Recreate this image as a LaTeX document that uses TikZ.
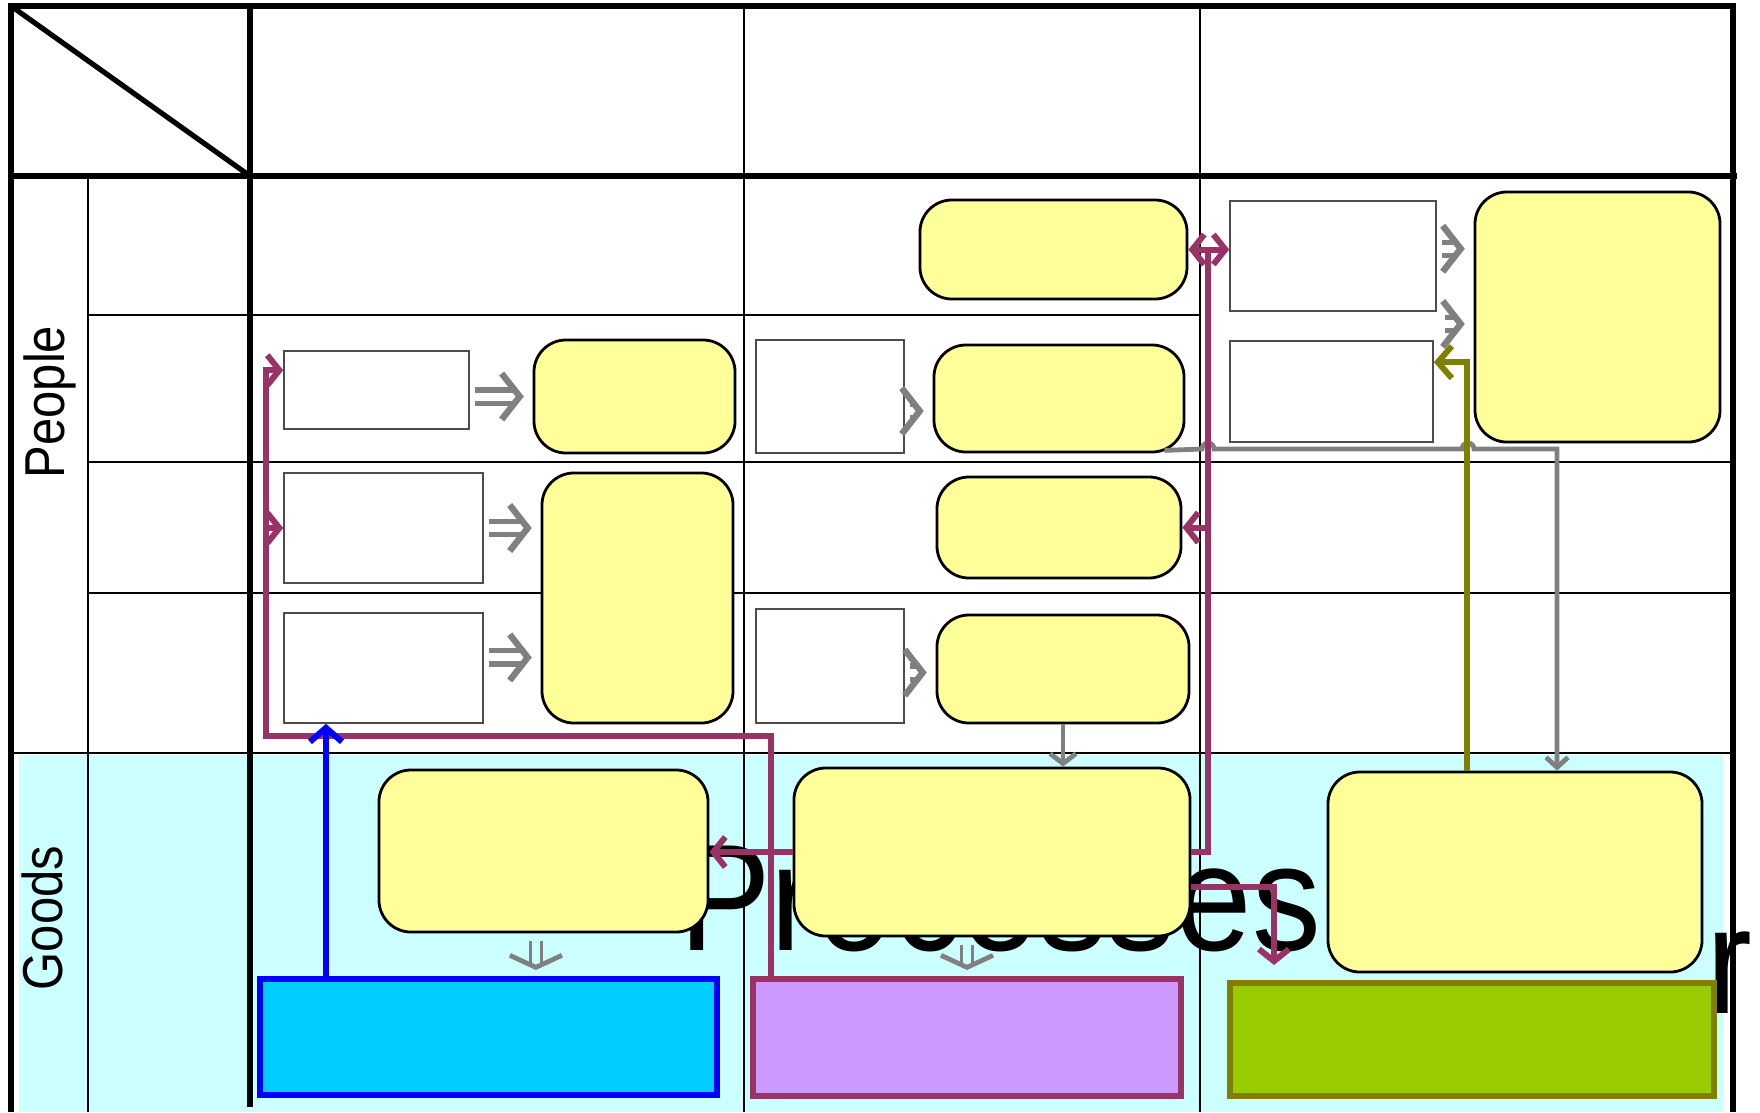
\documentclass[tikz,border=0pt]{standalone}
\usepackage{fontspec}
\setmainfont{Liberation Sans}
\usepackage{xcolor}
\usetikzlibrary{arrows.meta,positioning,calc,decorations.markings}

\definecolor{goodsbg}{HTML}{CCFFFF}
\definecolor{taskyellow}{HTML}{FFFF99}
\definecolor{plum}{HTML}{993366}
\definecolor{flowolive}{HTML}{808000}
\definecolor{skyfill}{HTML}{00CCFF}
\definecolor{lilacfill}{HTML}{CC99FF}
\definecolor{limefill}{HTML}{99CC00}

\begin{document}
\begin{tikzpicture}[
    x=0.025cm, y=-0.025cm,
    thinline/.style={line width=0.05cm},
    thickline/.style={line width=0.13cm},
    lane/.style={font=\fontsize{40}{44}\selectfont, rotate=90, xscale=0.87, inner sep=0pt},
    bigtext/.style={font=\fontsize{108}{120}\selectfont, xscale=0.905, inner sep=0pt},
    task/.style={rectangle, draw, rounded corners=0.8cm, fill=taskyellow, line width=0.07cm, inner sep=0pt},
    doc/.style={rectangle, draw=black!70, fill=white, line width=0.04cm, inner sep=0pt},
    store/.style={rectangle, line width=0.15cm, inner sep=0pt},
    dbl/.style={draw=white, line width=0.2cm, shorten <=0.12cm, shorten >=0.38cm,
        preaction={draw=gray, line width=0.46cm, shorten <=0.12cm, shorten >=0.38cm},
        decoration={markings, mark=at position -0.22cm with {\arrow[gray, line width=0.16cm]{Straight Barb[length=0.45cm, width=1.15cm]}}},
        postaction={decorate}},
    dbldown/.style={draw=goodsbg, line width=0.2cm, shorten <=0.2cm, shorten >=0.3cm,
        preaction={draw=gray, line width=0.36cm, shorten <=0.2cm, shorten >=0.3cm},
        decoration={markings, mark=at position -0.15cm with {\arrow[gray, line width=0.12cm]{Straight Barb[length=0.3cm, width=1.3cm]}}},
        postaction={decorate}},
    garr/.style={draw=gray, line width=0.12cm, -{Straight Barb[length=0.25cm, width=0.65cm]}},
    gline/.style={draw=gray, line width=0.12cm, -{Straight Barb[length=0.25cm, width=0.55cm]}},
    pline/.style={draw=plum, line width=0.15cm},
    parr/.style={pline, -{Straight Barb[length=0.3cm, width=0.75cm]}},
    barr/.style={draw=blue, line width=0.15cm, -{Straight Barb[length=0.35cm, width=0.8cm]}},
    oarr/.style={draw=flowolive, line width=0.15cm, -{Straight Barb[length=0.35cm, width=0.8cm]}}
]
    \useasboundingbox (0,0) rectangle (1760,1112);

    % Goods lane background
    \fill[goodsbg] (19,755) rectangle (1723,1112);

    % Grid
    \draw[thinline] (88,176) -- (88,1112);
    \draw[thinline] (744,6) -- (744,1112);
    \draw[thinline] (1200,6) -- (1200,1112);
    \draw[thinline] (88,315) -- (1200,315);
    \draw[thinline] (88,462) -- (1733,462);
    \draw[thinline] (88,593) -- (1733,593);
    \draw[thinline] (11,753) -- (1733,753);
    \draw[thickline] (11,1112) -- (11,6) -- (1733,6) -- (1733,1112);
    \draw[thickline] (11,176) -- (1737,176);
    \draw[thickline] (250,6) -- (250,1107);
    \draw[thickline] (11,6) -- (250,176);

    % Lanes
    \node[lane] (people) at (50,402) {People};
    \node[lane] (goods) at (42,918) {Goods};

    % Title behind the boxes
    \node[bigtext, anchor=base west] (processes) at (679,950) {Processes};
    \node[bigtext, anchor=base west] (tail) at (1706,1013) {r};

    % Documents
    \node[doc, minimum width=4.625cm, minimum height=1.95cm] (d1) at (376.5,390) {};
    \node[doc, minimum width=4.975cm, minimum height=2.75cm] (d2) at (383.5,528) {};
    \node[doc, minimum width=4.975cm, minimum height=2.75cm] (d3) at (383.5,668) {};
    \node[doc, minimum width=3.7cm, minimum height=2.825cm] (d4) at (830,396.5) {};
    \node[doc, minimum width=3.7cm, minimum height=2.85cm] (d5) at (830,666) {};
    \node[doc, minimum width=5.15cm, minimum height=2.75cm] (d6) at (1333,256) {};
    \node[doc, minimum width=5.075cm, minimum height=2.525cm] (d7) at (1331.5,391.5) {};

    % Tasks
    \node[task, minimum width=6.675cm, minimum height=2.475cm] (t1) at (1053.5,249.5) {};
    \node[task, minimum width=5.025cm, minimum height=2.825cm] (t2) at (634.5,396.5) {};
    \node[task, minimum width=4.775cm, minimum height=6.25cm] (t3) at (637.5,598) {};
    \node[task, minimum width=6.25cm, minimum height=2.675cm] (t4) at (1059,398.5) {};
    \node[task, minimum width=6.1cm, minimum height=2.525cm] (t5) at (1059,527.5) {};
    \node[task, minimum width=6.3cm, minimum height=2.7cm] (t6) at (1063,669) {};
    \node[task, minimum width=6.125cm, minimum height=6.25cm] (t7) at (1597.5,317) {};
    \node[task, minimum width=8.225cm, minimum height=4.05cm] (t8) at (543.5,851) {};
    \node[task, minimum width=9.9cm, minimum height=4.2cm] (t9) at (992,852) {};
    \node[task, minimum width=9.35cm, minimum height=5cm] (t10) at (1515,872) {};

    % Stores
    \node[store, draw=blue, fill=skyfill, minimum width=11.425cm, minimum height=2.9cm] (s1) at (488.5,1037) {};
    \node[store, draw=plum, fill=lilacfill, minimum width=10.7cm, minimum height=2.925cm] (s2) at (967,1037.5) {};
    \node[store, draw=flowolive, fill=limefill, minimum width=12.1cm, minimum height=2.825cm] (s3) at (1472,1039.5) {};

    % Document to task
    \draw[dbl] (t2.west -| d1.east) -- (t2.west);
    \draw[dbl] (d2.east) -- (d2.east -| t3.west);
    \draw[dbl] (d3.6) -- (d3.6 -| t3.west);
    \draw[dbl] (d4.-11) -- (d4.-11 -| t4.west);
    \draw[dbl] (d5.-5) -- (d5.-5 -| t6.west);
    \draw[dbl] (d6.4) -- (d6.4 -| t7.west);
    \coordinate (gap) at (1440,324);
    \draw[dbl] (gap) -- (gap -| t7.west);
    \draw[dbldown] ([xshift=-0.19cm]t8.south) -- ([xshift=-0.19cm]t8.south |- s1.north);
    \draw[dbldown] (s2.north |- t9.south) -- (s2.north);

    % Gray flows
    \draw[garr] (t6.south) -- (t6.south |- t9.north);
    \draw[gline] ([xshift=-0.525cm, yshift=0.075cm]t4.south east) -- (1202,449)
        arc[start angle=180, end angle=0, radius=0.15cm] -- (1462,449)
        arc[start angle=180, end angle=0, radius=0.15cm] -| ([xshift=1.05cm]t10.north);

    % Purple flows
    \coordinate (pl) at (266,736);
    \draw[parr] ([xshift=0.525cm]s2.north west) |- (pl) |- (d1.168);
    \draw[parr] (pl |- d2.west) -- (d2.west);
    \draw[parr] (t9.west) -- (t9.west -| t8.east);
    \coordinate (pr) at (1208,249.5);
    \draw[pline] (t9.east) -| (pr);
    \draw[parr, {Straight Barb[length=0.3cm, width=0.75cm]}-{Straight Barb[length=0.3cm, width=0.75cm]}] (t1.east) -- (t1.east -| d6.west);
    \draw[parr] (pr |- t5.east) -- (t5.east);
    \draw[parr] (t9.-10) -| ([xshift=1.175cm, yshift=0.375cm]s3.north west);

    % Blue flow
    \coordinate (bl) at ([xshift=1.725cm]s1.north west);
    \draw[barr] (bl) -- (bl |- d3.south);

    % Olive flow
    \coordinate (ol) at ([xshift=3.5cm]t10.north west);
    \draw[oarr] (ol) |- (d7.16);
\end{tikzpicture}
\end{document}
